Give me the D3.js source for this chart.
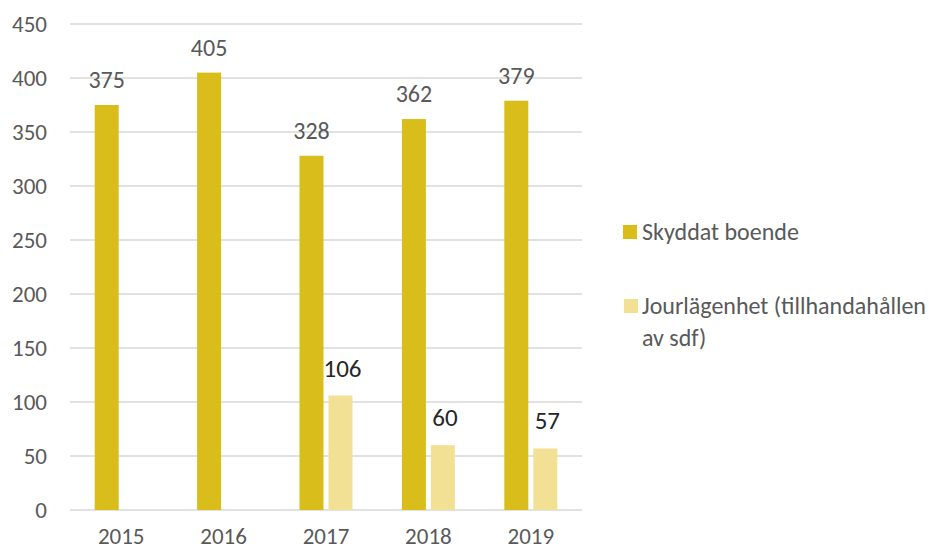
<!DOCTYPE html>
<html>
<head>
<meta charset="utf-8">
<script src="https://cdn.jsdelivr.net/npm/d3@7"></script>
<style>
body{margin:0;background:#fff;}
text{font-family:Calibri,Carlito,"Liberation Sans","Open Sans",sans-serif;}
</style>
</head>
<body>
<svg id="chart" width="929" height="550"></svg>
<script>
// data
var years=["2015","2016","2017","2018","2019"];
var skyddat=[375,405,328,362,379];
var jour=[null,null,106,60,57];
var seriesNames=["Skyddat boende","Jourlägenhet (tillhandahållen av sdf)"];
var yTicks=[0,50,100,150,200,250,300,350,400,450];

var colors=["#d9be1b","#f2e195"];
var svg=d3.select("#chart");
var plotLeft=70,plotRight=582,plotTop=24,plotBottom=510;

var x=d3.scaleBand().domain(years).range([plotLeft,plotRight]);
var y=d3.scaleLinear().domain([0,450]).range([plotBottom,plotTop]);
var barW=24,gap=5;

// gridlines
svg.append("g").selectAll("line").data(yTicks).enter().append("line")
	.attr("x1",plotLeft).attr("x2",plotRight)
	.attr("y1",function(d){return y(d);}).attr("y2",function(d){return y(d);})
	.attr("stroke","#d9d9d9").attr("stroke-width",1.3);

// y axis labels
var yAxis=d3.axisLeft(y).tickValues(yTicks).tickSize(0).tickPadding(0);
var yg=svg.append("g").attr("transform","translate(47,0)").call(yAxis);
yg.select(".domain").remove();
yg.selectAll("text").attr("font-size","23px").attr("fill","#595959").attr("font-family",null);

// x axis labels
var xAxis=d3.axisBottom(x).tickSize(0).tickPadding(0);
var xg=svg.append("g").attr("transform","translate(0,528)").call(xAxis);
xg.select(".domain").remove();
xg.selectAll("text").attr("font-size","23px").attr("fill","#595959").attr("font-family",null);

function cx(i){return x(years[i])+x.bandwidth()/2;}

// dark bars
svg.append("g").selectAll("rect").data(skyddat).enter().append("rect")
	.attr("x",function(d,i){return cx(i)-gap/2-barW;})
	.attr("y",function(d){return y(d);})
	.attr("width",barW)
	.attr("height",function(d){return plotBottom-y(d);})
	.attr("fill",colors[0]);

// light bars
var jourData=jour.map(function(d,i){return {v:d,i:i};}).filter(function(d){return d.v!=null;});
svg.append("g").selectAll("rect").data(jourData).enter().append("rect")
	.attr("x",function(d){return cx(d.i)+gap/2;})
	.attr("y",function(d){return y(d.v);})
	.attr("width",barW)
	.attr("height",function(d){return plotBottom-y(d.v);})
	.attr("fill",colors[1]);

// value labels
svg.append("g").selectAll("text").data(skyddat).enter().append("text")
	.attr("x",function(d,i){return cx(i)-gap/2-barW/2;})
	.attr("y",function(d){return y(d)-17;})
	.attr("text-anchor","middle").attr("font-size","24px").attr("fill","#595959")
	.text(function(d){return d;});
svg.append("g").selectAll("text").data(jourData).enter().append("text")
	.attr("x",function(d){return cx(d.i)+gap/2+barW/2+2;})
	.attr("y",function(d){return y(d.v)-19;})
	.attr("text-anchor","middle").attr("font-size","25px").attr("fill","#262626")
	.text(function(d){return d.v;});

// legend
var lg=svg.append("g");
lg.append("rect").attr("x",623).attr("y",225).attr("width",14).attr("height",14).attr("fill",colors[0]);
lg.append("text").attr("x",642).attr("y",240).attr("font-size","24px").attr("fill","#595959").text(seriesNames[0]);
lg.append("rect").attr("x",624).attr("y",299).attr("width",14).attr("height",14).attr("fill",colors[1]);
var t2=lg.append("text").attr("font-size","24px").attr("fill","#595959");
t2.append("tspan").attr("x",642).attr("y",314).text("Jourlägenhet (tillhandahållen");
t2.append("tspan").attr("x",642).attr("y",346).text("av sdf)");
</script>
</body>
</html>
